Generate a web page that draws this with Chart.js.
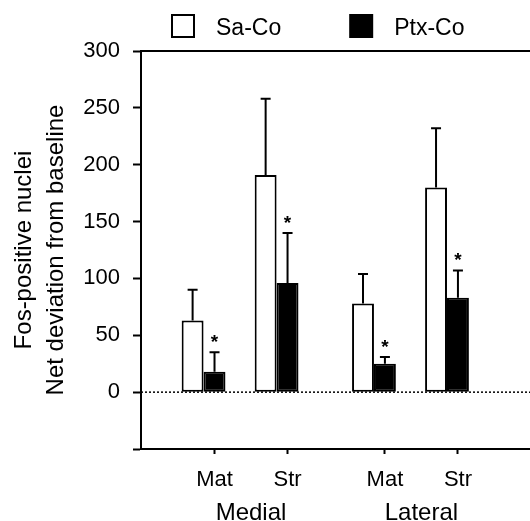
<!DOCTYPE html>
<html>
<head>
<meta charset="utf-8">
<script src="https://cdn.jsdelivr.net/npm/chart.js@4.4.1/dist/chart.umd.min.js"></script>
<style>
  body { margin: 0; background: #fff; }
  canvas { display: block; }
</style>
</head>
<body>
<canvas id="myChart" width="530" height="521"></canvas>
<script>
// data
var categories = ['Mat', 'Str', 'Mat', 'Str'];
var regions = ['Medial', 'Lateral'];
var saCo = [63, 191, 78, 180];
var saCoSem = [27, 67, 26, 52];
var ptxCo = [18, 96, 25, 83];
var ptxCoSem = [17, 44, 6, 24];
var significant = [true, true, true, true];
var yTicks = [0, 50, 100, 150, 200, 250, 300];

// layout: slot of each category on the x axis (gap between the two regions)
var slots = [0, 3, 7, 10];
var tickShift = 0.45; // tick sits under the Ptx-Co bar
var FONT = "'Liberation Sans', Arial, sans-serif";

function pts(vals) {
	return vals.map(function (v, i) { return { x: slots[i], y: v }; });
}

// error bars, zero line, frame, asterisks, legend
var extras = {
	id: 'extras',
	beforeDatasetsDraw: function (chart) {
		var c = chart.ctx, a = chart.chartArea, y0 = chart.scales.y.getPixelForValue(0);
		c.save();
		c.strokeStyle = '#000';
		c.lineWidth = 1.5;
		c.setLineDash([2, 2]);
		c.beginPath();
		c.moveTo(a.left, y0);
		c.lineTo(a.right, y0);
		c.stroke();
		c.restore();
	},
	afterDatasetsDraw: function (chart) {
		var c = chart.ctx, a = chart.chartArea, ys = chart.scales.y;
		c.save();
		c.strokeStyle = '#000';
		c.fillStyle = '#000';
		c.lineWidth = 2;
		// top frame line
		c.beginPath();
		c.moveTo(a.left - 1, a.top);
		c.lineTo(a.right, a.top);
		c.stroke();

		chart.data.datasets.forEach(function (ds, di) {
			var meta = chart.getDatasetMeta(di);
			meta.data.forEach(function (bar, j) {
				var top = ys.getPixelForValue(ds.values[j] + ds.sem[j]);
				c.beginPath();
				c.moveTo(bar.x, bar.y);
				c.lineTo(bar.x, top);
				c.moveTo(bar.x - 5, top);
				c.lineTo(bar.x + 5, top);
				c.stroke();
				if (ds.stars && ds.stars[j]) {
					c.font = 'bold 19px ' + FONT;
					c.textAlign = 'center';
					c.textBaseline = 'alphabetic';
					c.fillText('*', bar.x, top - 4);
				}
			});
		});

		// legend
		c.font = '23px ' + FONT;
		c.textBaseline = 'middle';
		c.textAlign = 'left';
		var x = 172, yc = 26;
		chart.data.datasets.forEach(function (ds) {
			c.fillStyle = ds.backgroundColor;
			c.fillRect(x, yc - 11, 22, 22);
			c.lineWidth = 2;
			c.strokeRect(x, yc - 11, 22, 22);
			c.fillStyle = '#000';
			c.fillText(ds.label, x + 44, yc + 3);
			x += 44 + c.measureText(ds.label).width + 69;
		});
		c.restore();
	}
};

var ctx = document.getElementById('myChart').getContext('2d');

var chart = new Chart(ctx, {
	type: 'bar',
	data: {
		datasets: [{
			label: 'Sa-Co',
			data: pts(saCo),
			values: saCo,
			sem: saCoSem,
			backgroundColor: '#fff',
			borderColor: '#000',
			borderWidth: 2,
			borderSkipped: false
		}, {
			label: 'Ptx-Co',
			data: pts(ptxCo),
			values: ptxCo,
			sem: ptxCoSem,
			stars: significant,
			backgroundColor: '#000',
			borderColor: '#000',
			borderWidth: 2,
			borderSkipped: false
		}]
	},
	options: {
		responsive: false,
		animation: false,
		barPercentage: 1.0,
		categoryPercentage: 0.6,
		layout: { padding: { top: 51, left: 0, right: 0, bottom: 0 } },
		plugins: {
			legend: { display: false },
			tooltip: { enabled: false }
		},
		scales: {
			x: {
				type: 'linear',
				position: 'bottom',
				weight: 1,
				min: -2.57,
				max: 13.41,
				offset: false,
				afterBuildTicks: function (s) {
					s.ticks = slots.map(function (p) { return { value: p + tickShift }; });
				},
				afterFit: function (s) { s.height = 40; },
				grid: { drawOnChartArea: false, offset: false, tickLength: 5, tickWidth: 2, tickColor: '#000' },
				border: { color: '#000', width: 2 },
				ticks: {
					autoSkip: false,
					maxRotation: 0,
					padding: 13,
					color: '#000',
					font: { family: FONT, size: 22 },
					callback: function (v, i) { return categories[i]; }
				}
			},
			xg: {
				type: 'linear',
				position: 'bottom',
				weight: 2,
				min: -2.57,
				max: 13.41,
				offset: false,
				afterBuildTicks: function (s) {
					s.ticks = [0, 2].map(function (k) {
						return { value: (slots[k] + slots[k + 1]) / 2 + tickShift };
					});
				},
				afterFit: function (s) { s.height = 32; },
				grid: { display: false, drawTicks: false, offset: false },
				border: { display: false },
				ticks: {
					autoSkip: false,
					maxRotation: 0,
					padding: 10,
					color: '#000',
					font: { family: FONT, size: 24 },
					callback: function (v, i) { return regions[i]; }
				}
			},
			y: {
				min: -50,
				max: 300,
				afterFit: function (s) { s.width = 141; },
				grid: { drawOnChartArea: false, tickLength: 8, tickWidth: 2, tickColor: '#000' },
				border: { color: '#000', width: 2 },
				ticks: {
					stepSize: 25,
					padding: 13,
					color: '#000',
					font: { family: FONT, size: 22 },
					callback: function (v) { return yTicks.indexOf(v) >= 0 ? v : ''; }
				},
				title: {
					display: true,
					text: ['Fos-positive nuclei', 'Net deviation from baseline'],
					color: '#000',
					font: { family: FONT, size: 24, lineHeight: 1.33 },
					padding: { top: 8, bottom: 0 }
				}
			}
		}
	},
	plugins: [extras]
});
</script>
</body>
</html>
